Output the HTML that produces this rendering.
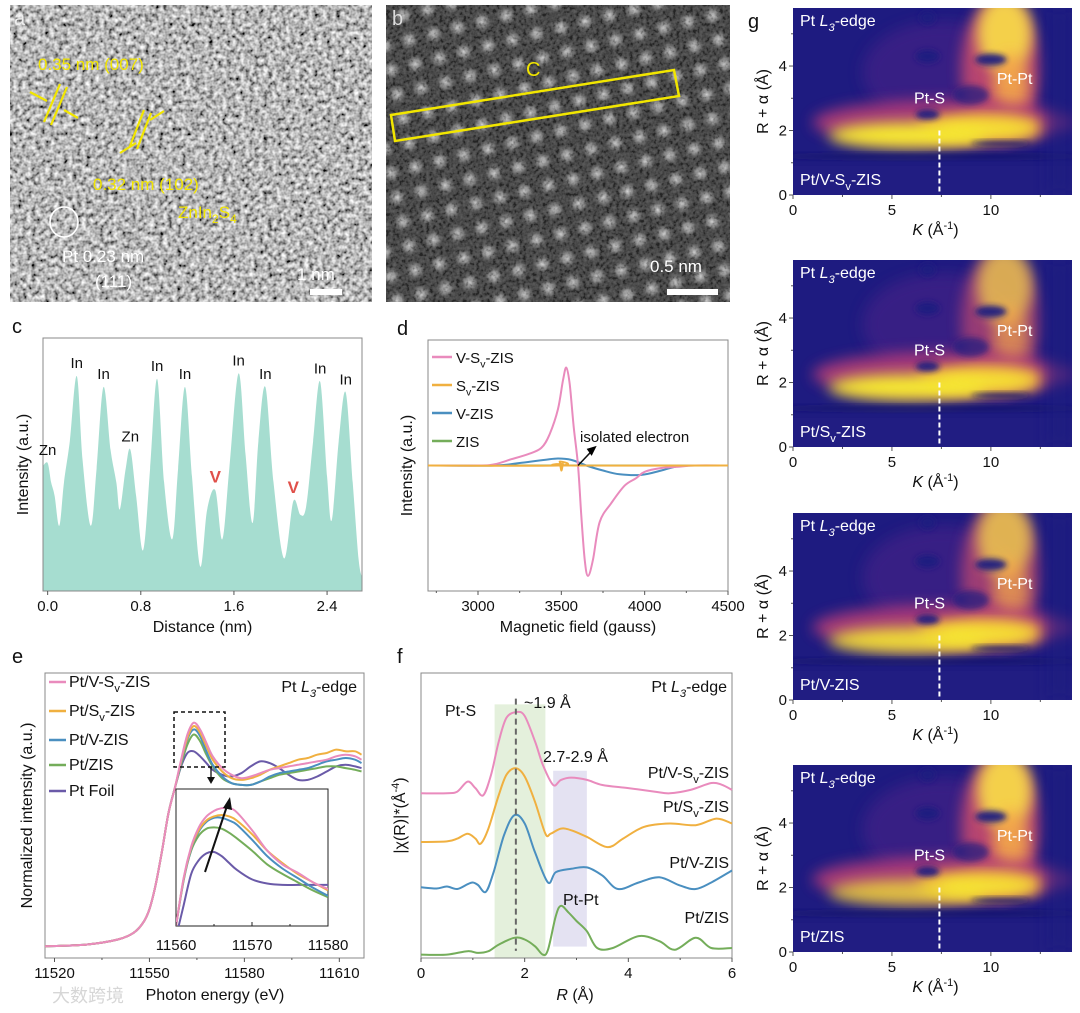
<!DOCTYPE html>
<html><head><meta charset="utf-8"><style>
html,body{margin:0;padding:0;background:#fff;}
svg{display:block;font-family:"Liberation Sans","Noto Sans CJK SC",sans-serif;}
</style></head><body>
<svg id="fig" width="1080" height="1013" viewBox="0 0 1080 1013" xmlns="http://www.w3.org/2000/svg">
<defs>
<filter id="temA" x="0" y="0" width="100%" height="100%"><feTurbulence type="fractalNoise" baseFrequency="0.22" numOctaves="2" seed="4"/><feColorMatrix type="matrix" values="1.5 0 0 0 -0.28  1.5 0 0 0 -0.28  1.5 0 0 0 -0.28  0 0 0 0 1"/></filter>
<filter id="temB" x="0" y="0" width="100%" height="100%"><feTurbulence type="fractalNoise" baseFrequency="0.3" numOctaves="2" seed="9"/><feColorMatrix type="matrix" values="1 0 0 0 -0.3  1 0 0 0 -0.3  1 0 0 0 -0.3  0 0 0 0 0.3"/></filter>
<radialGradient id="dot"><stop offset="0" stop-color="#e0e0e0"/><stop offset="0.45" stop-color="#a0a0a0" stop-opacity="0.75"/><stop offset="1" stop-color="#333" stop-opacity="0"/></radialGradient>
<pattern id="lat" width="25" height="25" patternUnits="userSpaceOnUse" patternTransform="rotate(-14)"><circle cx="12.5" cy="12.5" r="11" fill="url(#dot)"/></pattern>
<filter id="blur" x="-50%" y="-50%" width="200%" height="200%"><feGaussianBlur stdDeviation="7"/></filter>
<filter id="blur2" x="-50%" y="-50%" width="200%" height="200%"><feGaussianBlur stdDeviation="3"/></filter>
<clipPath id="clipInset"><rect x="176" y="789" width="152" height="137"/></clipPath>
</defs>

<!-- Panel a -->
<g>
<rect x="10" y="5" width="362" height="297" fill="#777"/>
<rect x="10" y="5" width="362" height="297" filter="url(#temA)"/>
<text x="14" y="25" font-size="20" fill="#eee">a</text>
<g stroke="#f2e600" stroke-width="2.2" fill="none">
<line x1="44" y1="122" x2="60" y2="84"/><line x1="51" y1="125" x2="67" y2="87"/>
<line x1="30" y1="92" x2="47" y2="101"/><line x1="64" y1="110" x2="78" y2="118"/>
<line x1="130" y1="146" x2="144" y2="110"/><line x1="137" y1="149" x2="151" y2="113"/>
<line x1="120" y1="153" x2="136" y2="143"/><line x1="150" y1="120" x2="164" y2="111"/>
</g>
<text x="38" y="70" font-size="17" fill="#f2e600">0.35 nm (007)</text>
<text x="178" y="218" font-size="17" fill="#f2e600">ZnIn<tspan font-size="12" dy="5">2</tspan><tspan dy="-5">S</tspan><tspan font-size="12" dy="5">4</tspan></text>
<text x="93" y="190" font-size="17" fill="#f2e600">0.32 nm (102)</text>
<ellipse cx="64" cy="222" rx="14" ry="15" stroke="#fff" stroke-width="1.6" fill="none"/>
<text x="62" y="262" font-size="17" fill="#fff">Pt 0.23 nm</text>
<text x="95" y="287" font-size="17" fill="#fff">(111)</text>
<text x="297" y="280" font-size="17" fill="#fff">1 nm</text>
<rect x="310" y="289" width="32" height="6" fill="#fff"/>
</g>

<!-- Panel b -->
<g>
<rect x="386" y="5" width="344" height="297" fill="#333"/>
<rect x="386" y="5" width="344" height="297" fill="url(#lat)"/>
<rect x="386" y="5" width="344" height="297" filter="url(#temB)"/>
<text x="392" y="25" font-size="20" fill="#ddd">b</text>
<text x="526" y="76" font-size="20" fill="#f2e600">C</text>
<polygon points="391,115 674,70 679,96 395,141" fill="none" stroke="#f2e600" stroke-width="2.5"/>
<text x="650" y="272" font-size="17" fill="#fff">0.5 nm</text>
<rect x="667" y="289" width="51" height="6" fill="#fff"/>
</g>

<g id="charts"></g>
</svg>

<script>
// ---------- Panel c data ----------
const cDist = [-0.04,0.0,0.03,0.06,0.10,0.14,0.19,0.25,0.30,0.37,0.42,0.48,0.54,0.59,0.62,0.67,0.71,0.76,0.82,0.88,0.94,1.00,1.07,1.12,1.18,1.24,1.31,1.37,1.44,1.50,1.56,1.64,1.70,1.76,1.81,1.87,1.94,2.03,2.11,2.17,2.22,2.28,2.34,2.40,2.44,2.50,2.56,2.62,2.67,2.70];
const cInt  = [0.46,0.47,0.40,0.35,0.24,0.40,0.55,0.79,0.48,0.24,0.45,0.75,0.52,0.40,0.30,0.45,0.52,0.35,0.15,0.45,0.78,0.40,0.19,0.45,0.75,0.42,0.09,0.30,0.37,0.19,0.45,0.80,0.50,0.25,0.55,0.75,0.40,0.12,0.33,0.28,0.31,0.55,0.77,0.42,0.26,0.55,0.73,0.40,0.12,0.05];
const cPeakLabels = ["Zn","In","In","Zn","In","In","V","In","In","V","In","In"];
const cPeakX = [0.0,0.25,0.48,0.71,0.94,1.18,1.44,1.64,1.87,2.11,2.34,2.56];
const cPeakY = [0.47,0.79,0.75,0.52,0.78,0.75,0.37,0.80,0.75,0.33,0.77,0.73];
const cTicks = [0.0,0.8,1.6,2.4];

// ---------- Panel d data ----------
const dPinkX = [2700,3000,3100,3200,3300,3380,3430,3480,3510,3530,3550,3575,3600,3620,3640,3660,3690,3730,3800,3880,3950,4000,4100,4200,4300,4500];
const dPinkY = [0,0,0.01,0.05,0.09,0.14,0.25,0.45,0.68,0.78,0.65,0.3,0,-0.4,-0.75,-0.88,-0.75,-0.45,-0.3,-0.16,-0.1,-0.05,-0.02,-0.01,0,0];
const dBlueX = [2700,3100,3250,3400,3480,3560,3650,3750,3850,3980,4100,4200,4300,4500];
const dBlueY = [0,0,0.02,0.045,0.056,0.045,0,-0.04,-0.07,-0.075,-0.04,-0.005,0,0];
const dOrangeX = [2700,3480,3490,3500,3510,3520,4500];
const dOrangeY = [0,0,0.03,-0.04,0.01,0,0];
const dGreenX = [2700,4500];
const dGreenY = [0,0];
const dTicks = [3000,3500,4000,4500];
const dLegend = ["V-S|v|-ZIS","S|v|-ZIS","V-ZIS","ZIS"];

// ---------- Panel e data ----------
const eEnergy = [11517,11530,11540,11545,11548,11550,11552,11554,11556,11558,11560,11562,11564,11566,11568,11570,11573,11576,11579,11582,11585,11588,11591,11594,11597,11600,11603,11606,11609,11612,11615,11617];
const ePink   = [.01,.02,.05,.09,.15,.23,.38,.58,.80,.95,1.12,1.27,1.34,1.30,1.22,1.14,1.07,1.03,1.01,1.02,1.04,1.06,1.07,1.08,1.09,1.10,1.11,1.12,1.14,1.15,1.14,1.12];
const eOrange = [.01,.02,.05,.09,.15,.23,.38,.58,.80,.95,1.11,1.25,1.32,1.28,1.20,1.12,1.05,1.01,1.00,1.01,1.03,1.06,1.08,1.10,1.12,1.13,1.15,1.16,1.18,1.17,1.17,1.15];
const eBlue   = [.01,.02,.05,.09,.15,.23,.38,.58,.80,.95,1.10,1.24,1.30,1.26,1.17,1.09,1.02,0.98,0.97,0.97,0.99,1.02,1.04,1.05,1.06,1.07,1.09,1.11,1.12,1.13,1.12,1.10];
const eGreen  = [.01,.02,.05,.09,.15,.23,.38,.58,.80,.95,1.09,1.21,1.27,1.23,1.15,1.08,1.01,0.98,0.97,0.97,0.99,1.01,1.03,1.04,1.05,1.06,1.07,1.08,1.08,1.07,1.06,1.05];
const ePurple = [.01,.02,.05,.09,.15,.23,.38,.58,.80,.95,1.08,1.16,1.17,1.14,1.10,1.06,1.03,1.02,1.04,1.08,1.11,1.10,1.07,1.03,1.00,1.00,1.02,1.05,1.08,1.09,1.08,1.07];
const eTicks = [11520,11550,11580,11610];
const iEnergy = [11560,11561,11562,11563,11564,11565,11566,11567,11568,11570,11572,11574,11576,11578,11580];
const iPink   = [0,0.35,0.58,0.72,0.80,0.84,0.86,0.86,0.83,0.70,0.55,0.45,0.39,0.32,0.27];
const iOrange = [0,0.34,0.57,0.70,0.77,0.80,0.81,0.80,0.77,0.67,0.55,0.46,0.38,0.32,0.26];
const iBlue   = [0,0.33,0.56,0.69,0.76,0.79,0.79,0.77,0.74,0.63,0.51,0.42,0.35,0.28,0.22];
const iGreen  = [0,0.34,0.55,0.66,0.71,0.72,0.71,0.68,0.64,0.55,0.45,0.38,0.32,0.26,0.21];
const iPurple = [-0.08,0.15,0.38,0.48,0.53,0.54,0.51,0.46,0.41,0.34,0.31,0.30,0.30,0.30,0.30];
const iTicks = [11560,11570,11580];
const eLegend = ["Pt/V-S|v|-ZIS","Pt/S|v|-ZIS","Pt/V-ZIS","Pt/ZIS","Pt Foil"];

// ---------- Panel f data ----------
const fPinkR = [0,0.5,0.7,0.9,1.05,1.2,1.35,1.5,1.65,1.85,2.0,2.2,2.35,2.55,2.7,2.9,3.2,3.5,4,4.5,4.8,5.2,5.6,5.8,6];
const fPink  = [.578,.578,.584,.619,.596,.571,.642,.760,.843,.863,.849,.760,.678,.607,.625,.633,.625,.607,.596,.584,.578,.590,.614,.608,.590];
const fOrangeR = [0,0.5,0.7,0.9,1.05,1.15,1.3,1.5,1.65,1.83,2.0,2.2,2.4,2.5,2.7,2.9,3.2,3.6,3.9,4.3,4.8,5.3,5.7,6];
const fOrange  = [.407,.409,.419,.436,.419,.401,.454,.572,.643,.666,.637,.548,.436,.436,.454,.448,.425,.389,.419,.460,.472,.466,.489,.472];
const fBlueR = [0,0.3,0.5,0.7,0.9,1.0,1.1,1.25,1.4,1.6,1.8,2.0,2.2,2.45,2.6,2.9,3.2,3.5,3.8,4.2,4.6,5.0,5.3,5.6,6];
const fBlue  = [.248,.244,.251,.242,.259,.265,.256,.232,.301,.430,.501,.472,.371,.265,.301,.313,.318,.289,.242,.265,.283,.254,.242,.265,.307];
const fGreenR = [0,0.5,0.9,1.1,1.3,1.5,1.8,2.0,2.2,2.35,2.45,2.6,2.7,2.85,3.0,3.2,3.4,3.7,4.2,4.6,4.9,5.3,5.6,6];
const fGreen  = [.012,.012,.024,.018,.024,.047,.071,.065,.041,.012,.029,.147,.183,.159,.130,.094,.035,.035,.077,.059,.029,.071,.035,.035];
const fTicks = [0,2,4,6];
const fLabels = ["Pt/V-S|v|-ZIS","Pt/S|v|-ZIS","Pt/V-ZIS","Pt/ZIS"];

// ---------- Panel g ----------
const gTops = [8, 260, 513, 765];
const gSamples = ["Pt/V-S|v|-ZIS","Pt/S|v|-ZIS","Pt/V-ZIS","Pt/ZIS"];
const gPtPtStrength = [1.0, 0.75, 0.8, 1.0];
const gPtSStrength = [1.0, 1.0, 0.9, 0.75];
const gKTicks = [0,5,10];
const gRTicks = [0,2,4];

const NS = "http://www.w3.org/2000/svg";
const root = document.getElementById("charts");
function el(tag, attrs, parent){ const e=document.createElementNS(NS,tag); for(const k in attrs) e.setAttribute(k,attrs[k]); (parent||root).appendChild(e); return e; }
function lin(d0,d1,r0,r1){ return v => r0 + (v-d0)*(r1-r0)/(d1-d0); }
function smoothPath(xs, ys, sx, sy){
  const p = xs.map((x,i)=>[sx(x), sy(ys[i])]);
  let d = "M"+p[0][0].toFixed(1)+","+p[0][1].toFixed(1);
  for(let i=0;i<p.length-1;i++){
    const p0=p[i-1]||p[i], p1=p[i], p2=p[i+1], p3=p[i+2]||p2;
    const c1x=p1[0]+(p2[0]-p0[0])/6, c1y=p1[1]+(p2[1]-p0[1])/6;
    const c2x=p2[0]-(p3[0]-p1[0])/6, c2y=p2[1]-(p3[1]-p1[1])/6;
    d += " C"+c1x.toFixed(1)+","+c1y.toFixed(1)+" "+c2x.toFixed(1)+","+c2y.toFixed(1)+" "+p2[0].toFixed(1)+","+p2[1].toFixed(1);
  }
  return d;
}
function richText(parent, x, y, str, size, fill, anchor){
  const t = el("text",{x:x,y:y,"font-size":size,fill:fill||"#111","text-anchor":anchor||"start"},parent);
  const parts = str.split("|");
  parts.forEach((s,i)=>{
    const ts = document.createElementNS(NS,"tspan");
    if(i%2===1){ ts.setAttribute("font-size", size*0.7); ts.setAttribute("dy", size*0.3); }
    else if(i>0){ ts.setAttribute("dy", -size*0.3); }
    ts.textContent = s; t.appendChild(ts);
  });
  return t;
}
function edgeLabel(parent,x,y,size,anchor,fill){
  const t = el("text",{x:x,y:y,"font-size":size,fill:fill||"#111","text-anchor":anchor||"end"},parent);
  const a=document.createElementNS(NS,"tspan"); a.textContent="Pt "; t.appendChild(a);
  const b=document.createElementNS(NS,"tspan"); b.setAttribute("font-style","italic"); b.textContent="L"; t.appendChild(b);
  const c=document.createElementNS(NS,"tspan"); c.setAttribute("font-style","italic"); c.setAttribute("font-size",size*0.7); c.setAttribute("dy",size*0.3); c.textContent="3"; t.appendChild(c);
  const d=document.createElementNS(NS,"tspan"); d.setAttribute("dy",-size*0.3); d.textContent="-edge"; t.appendChild(d);
  return t;
}
const PINK="#e98bbd", ORANGE="#f0b040", BLUE="#4a8fc0", GREEN="#74ad5a", PURPLE="#6a5aa8";

// ================= Panel c =================
(function(){
  const g = el("g",{});
  
  
  const L=43,R=362,T=338,B=591;
  const sx = lin(-0.04,2.70,L,R), sy = lin(0,0.93,B,T);
  let d = "M"+sx(cDist[0])+","+B+" L"+ smoothPath(cDist,cInt,sx,sy).slice(1) + " L"+sx(cDist[cDist.length-1])+","+B+" Z";
  const area = el("path",{d:d,fill:"#a6ddd0"},g);
  
  
  const box = el("rect",{x:L,y:T,width:R-L,height:B-T,fill:"none",stroke:"#888","stroke-width":1},g);
  
  
  cTicks.forEach(v=>{
    el("line",{x1:sx(v),x2:sx(v),y1:B,y2:B+4,stroke:"#555"},g);
    const t=el("text",{x:sx(v),y:B+20,"font-size":15,"text-anchor":"middle",fill:"#111"},g); t.textContent=v.toFixed(1);
    
    
  });
  cPeakLabels.forEach((s,i)=>{
    const isV = s==="V";
    const t=el("text",{x:sx(cPeakX[i]),y:sy(cPeakY[i])-8,"font-size":isV?17:15,"text-anchor":"middle",fill:isV?"#e0504a":"#111","font-weight":isV?"bold":"normal"},g);
    t.textContent=s;
    
    
  });
  const xt=el("text",{x:(L+R)/2,y:632,"font-size":16,"text-anchor":"middle",fill:"#111"},g); xt.textContent="Distance (nm)";
  
  
  const yt=el("text",{x:0,y:0,"font-size":16,"text-anchor":"middle",fill:"#111",transform:"translate(28,"+((T+B)/2)+") rotate(-90)"},g); yt.textContent="Intensity (a.u.)";
  
  
  const pl=el("text",{x:12,y:333,"font-size":20,fill:"#111"},g); pl.textContent="c";
  
  
})();

// ================= Panel d =================
(function(){
  const g = el("g",{});
  
  
  const L=428,R=728,T=340,B=591;
  const sx = lin(2700,4500,L,R), sy = lin(-1,1,B,T);
  const box=el("rect",{x:L,y:T,width:R-L,height:B-T,fill:"none",stroke:"#888"},g);
  
  
  for(let v=2750; v<=4500; v+=250){ el("line",{x1:sx(v),x2:sx(v),y1:B,y2:B+(v%500===0?4:2),stroke:"#555"},g); }
  dTicks.forEach(v=>{
    const t=el("text",{x:sx(v),y:B+20,"font-size":15,"text-anchor":"middle",fill:"#111"},g); t.textContent=v;
    
    
  });
  const series=[[dGreenX,dGreenY,GREEN,"zis"],[dBlueX,dBlueY,BLUE,"v-zis"],[dPinkX,dPinkY,PINK,"v-sv-zis"],[dOrangeX,dOrangeY,ORANGE,"sv-zis"]];
  series.forEach(s=>{
    const p=el("path",{d:smoothPath(s[0],s[1],sx,sy),fill:"none",stroke:s[2],"stroke-width":2},g);
    
    
  });
  const cols=[PINK,ORANGE,BLUE,GREEN];
  dLegend.forEach((s,i)=>{
    const y=357+i*28;
    el("line",{x1:432,x2:452,y1:y,y2:y,stroke:cols[i],"stroke-width":2.5},g);
    const t=richText(g,456,y+6,s,15);
    
    
  });
  el("line",{x1:sx(3600),y1:sy(0),x2:sx(3700),y2:sy(0.14),stroke:"#111","stroke-width":1.5},g);
  el("polygon",{points:(sx(3700)+2)+","+(sy(0.14)-2)+" "+(sx(3700)-8)+","+(sy(0.14)+1)+" "+(sx(3700)-3)+","+(sy(0.14)+8)},g);
  const an=el("text",{x:580,y:442,"font-size":15,fill:"#111"},g); an.textContent="isolated electron";
  
  
  const xt=el("text",{x:(L+R)/2,y:632,"font-size":16,"text-anchor":"middle",fill:"#111"},g); xt.textContent="Magnetic field (gauss)";
  
  
  const yt=el("text",{x:0,y:0,"font-size":16,"text-anchor":"middle",fill:"#111",transform:"translate(412,"+((T+B)/2)+") rotate(-90)"},g); yt.textContent="Intensity (a.u.)";
  
  
  const pl=el("text",{x:397,y:335,"font-size":20,fill:"#111"},g); pl.textContent="d";
  
  
})();

// ================= Panel e =================
(function(){
  const g = el("g",{});
  
  
  const L=45,R=364,T=673,B=958;
  const sx = lin(11517,11617.8,L,R), sy = lin(-0.06,1.636,B,T);
  const box=el("rect",{x:L,y:T,width:R-L,height:B-T,fill:"none",stroke:"#888"},g);
  
  
  for(let v=11520; v<=11610; v+=15){ el("line",{x1:sx(v),x2:sx(v),y1:B,y2:B+(v%30===0?4:2),stroke:"#555"},g); }
  eTicks.forEach(v=>{
    const t=el("text",{x:sx(v),y:B+20,"font-size":15,"text-anchor":"middle",fill:"#111"},g); t.textContent=v;
    
    
  });
  const ser=[[ePurple,PURPLE,"pt-foil"],[eGreen,GREEN,"pt-zis"],[eBlue,BLUE,"pt-v-zis"],[eOrange,ORANGE,"pt-sv-zis"],[ePink,PINK,"pt-v-sv-zis"]];
  ser.forEach(s=>{
    const p=el("path",{d:smoothPath(eEnergy,s[0],sx,sy),fill:"none",stroke:s[1],"stroke-width":2},g);
    
    
  });
  const db=el("rect",{x:174,y:712,width:51,height:55,fill:"none",stroke:"#111","stroke-width":1.5,"stroke-dasharray":"4,3"},g);
  
  
  el("line",{x1:211,y1:767,x2:211,y2:779,stroke:"#111","stroke-width":1.3},g);
  el("polygon",{points:"207,777 215,777 211,784",fill:"#111"},g);
  const iL=176,iR=328,iT=789,iB=926;
  const ix=lin(11560,11580,iL,iR), iy=lin(0,1,iB,iT);
  el("rect",{x:iL,y:iT,width:iR-iL,height:iB-iT,fill:"#fff",stroke:"#222"},g);
  const ig=el("g",{"clip-path":"url(#clipInset)"},g);
  
  
  [[iPurple,PURPLE],[iGreen,GREEN],[iBlue,BLUE],[iOrange,ORANGE],[iPink,PINK]].forEach(s=>{
    const p=el("path",{d:smoothPath(iEnergy,s[0],ix,iy),fill:"none",stroke:s[1],"stroke-width":2},ig);
    
    
  });
  for(let v=11560; v<=11580; v+=5){ el("line",{x1:ix(v),x2:ix(v),y1:iB,y2:iB-(v%10===0?4:2),stroke:"#222"},g); }
  iTicks.forEach(v=>{
    const t=el("text",{x:ix(v),y:950,"font-size":15,"text-anchor":"middle",fill:"#111"},g); t.textContent=v;
    
    
  });
  el("line",{x1:205,y1:872,x2:228,y2:803,stroke:"#111","stroke-width":2},g);
  el("polygon",{points:"230,797 223,808 232,810",fill:"#111"},g);
  const cols=[PINK,ORANGE,BLUE,GREEN,PURPLE];
  const ys=[687,716,745,770,796];
  eLegend.forEach((s,i)=>{
    el("line",{x1:49,x2:66,y1:ys[i]-5,y2:ys[i]-5,stroke:cols[i],"stroke-width":2.5},g);
    const t=richText(g,69,ys[i],s,16);
    
    
  });
  const el3=edgeLabel(g,357,692,16,"end");
  
  
  const xt=el("text",{x:215,y:1000,"font-size":16,"text-anchor":"middle",fill:"#111"},g); xt.textContent="Photon energy (eV)";
  
  
  const wm=el("text",{x:52,y:1002,"font-size":18,fill:"#ccc",opacity:0.8},g); wm.textContent="大数跨境";
  
  
  const yt=el("text",{x:0,y:0,"font-size":16,"text-anchor":"middle",fill:"#111",transform:"translate(32,"+((T+B)/2)+") rotate(-90)"},g); yt.textContent="Normalized intensity (a.u.)";
  
  
  const pl=el("text",{x:12,y:663,"font-size":20,fill:"#111"},g); pl.textContent="e";
  
  
})();

// ================= Panel f =================
(function(){
  const g = el("g",{});
  
  
  const L=421,R=732,T=673,B=958;
  const sx=lin(0,6,L,R), sy=lin(0,1,B,T);
  const gb=el("rect",{x:sx(1.42),y:sy(0.89),width:sx(2.4)-sx(1.42),height:sy(0)-sy(0.89),fill:"#e4f0dc"},g);
  
  
  const pb=el("rect",{x:sx(2.55),y:sy(0.657),width:sx(3.2)-sx(2.55),height:sy(0.04)-sy(0.657),fill:"#e4e2f2"},g);
  
  
  const box=el("rect",{x:L,y:T,width:R-L,height:B-T,fill:"none",stroke:"#888"},g);
  
  
  for(let v=0; v<=6; v+=1){ el("line",{x1:sx(v),x2:sx(v),y1:B,y2:B+(v%2===0?4:2),stroke:"#555"},g); }
  fTicks.forEach(v=>{
    const t=el("text",{x:sx(v),y:B+20,"font-size":15,"text-anchor":"middle",fill:"#111"},g); t.textContent=v;
    
    
  });
  [[fGreenR,fGreen,GREEN,"pt-zis"],[fBlueR,fBlue,BLUE,"pt-v-zis"],[fOrangeR,fOrange,ORANGE,"pt-sv-zis"],[fPinkR,fPink,PINK,"pt-v-sv-zis"]].forEach(s=>{
    const p=el("path",{d:smoothPath(s[0],s[1],sx,sy),fill:"none",stroke:s[2],"stroke-width":2},g);
    
    
  });
  const dl=el("line",{x1:sx(1.83),x2:sx(1.83),y1:sy(0.91),y2:sy(0.025),stroke:"#666","stroke-width":2,"stroke-dasharray":"6,4"},g);
  
  
  const add=(x,y,s,name,anchor)=>{ const t=el("text",{x:x,y:y,"font-size":16,fill:"#111","text-anchor":anchor||"start"},g); t.textContent=s;   return t; };
  add(445,716,"Pt-S","pt-s-label");
  add(524,708,"~1.9 Å","distance-label-1p9");
  add(543,762,"2.7-2.9 Å","distance-label-2p7");
  add(563,905,"Pt-Pt","pt-pt-label");
  const yls=[778,812,868,923];
  fLabels.forEach((s,i)=>{
    const t=richText(g,729,yls[i],s,16,"#111","end");
    
    
  });
  const el3=edgeLabel(g,727,692,16,"end");
  
  
  const xt=el("text",{x:575,y:1000,"font-size":16,"text-anchor":"middle",fill:"#111"},g);
  const a=document.createElementNS(NS,"tspan"); a.setAttribute("font-style","italic"); a.textContent="R"; xt.appendChild(a);
  const b=document.createElementNS(NS,"tspan"); b.textContent=" (Å)"; xt.appendChild(b);
  
  
  const yt=el("text",{x:0,y:0,"font-size":16,"text-anchor":"middle",fill:"#111",transform:"translate(405,"+((T+B)/2)+") rotate(-90)"},g);
  const y1=document.createElementNS(NS,"tspan"); y1.textContent="|χ(R)|*(Å"; yt.appendChild(y1);
  const y2=document.createElementNS(NS,"tspan"); y2.setAttribute("font-size",11); y2.setAttribute("dy",-6); y2.textContent="-4"; yt.appendChild(y2);
  const y3=document.createElementNS(NS,"tspan"); y3.setAttribute("dy",6); y3.textContent=")"; yt.appendChild(y3);
  
  
  const pl=el("text",{x:397,y:663,"font-size":20,fill:"#111"},g); pl.textContent="f";
  
  
})();

// ================= Panel g =================
gTops.forEach((top,idx)=>{
  const g = el("g",{});
  
  
  const L=793,R=1072,T=top,B=top+187;
  const sx=lin(0,14.1,L,R), sy=lin(0,5.8,B,T);
  const cid="gclip"+idx;
  const cp=el("clipPath",{id:cid},g); el("rect",{x:L,y:T,width:R-L,height:B-T},cp);
  const hm=el("g",{"clip-path":"url(#"+cid+")"},g);
  el("rect",{x:L,y:T,width:R-L,height:B-T,fill:"#1e1b80"},hm);
  const blob=(k,r,rk,rr,col,op,f)=>el("ellipse",{cx:sx(k),cy:sy(r),rx:sx(rk)-sx(0),ry:sy(0)-sy(rr),fill:col,opacity:op,filter:"url(#"+(f||"blur")+")"},hm);
  const pp=gPtPtStrength[idx], ps=gPtSStrength[idx];
  blob(7.5,3.8,4.0,1.6,"#4a2488",0.6);
  blob(10.5,3.9,2.0,2.2,"#c44a6e",0.9*pp);
  blob(10.7,5.0,1.4,1.2,"#f8d848",0.95*pp);
  blob(11.0,3.4,0.9,1.0,"#f4a848",0.9*pp);
  blob(7.5,2.25,6.5,0.7,"#b03a78",0.9);
  blob(9.5,2.1,3.2,0.45,"#f4b040",0.95);
  blob(5.8,1.85,4.0,0.4,"#f6e830",0.98*ps+0.02);
  blob(9.8,2.05,2.5,0.3,"#f6e830",0.9);
  blob(6.8,2.5,0.6,0.15,"#1e1b80",0.95,"blur2");
  blob(6.8,4.3,0.6,0.2,"#1e1b80",0.95,"blur2");
  blob(6.8,5.5,0.4,0.2,"#1e1b80",0.9,"blur2");
  blob(10,4.2,0.8,0.18,"#1e1b80",0.95,"blur2");
  blob(9,3.1,0.9,0.3,"#1e1b80",0.7,"blur2");
  blob(7,1.2,8,0.08,"#14126a",0.9,"blur2");
  blob(10.5,1.6,1.5,0.08,"#14126a",0.9,"blur2");
  el("rect",{x:L,y:sy(0.9),width:R-L,height:sy(0)-sy(0.9),fill:"#221e82",opacity:0.8},hm);
  el("rect",{x:sx(12.8),y:T,width:R-sx(12.8),height:B-T,fill:"#1e1b80",opacity:0.6,filter:"url(#blur)"},hm);
  const dl=el("line",{x1:sx(7.4),x2:sx(7.4),y1:sy(2.0),y2:sy(0.1),stroke:"#fff","stroke-width":2,"stroke-dasharray":"5,3"},g);
  
  
  for(let v=0; v<=14; v+=2.5){ el("line",{x1:sx(v),x2:sx(v),y1:B,y2:B+(v%5===0?4:2),stroke:"#555"},g); }
  for(let v=0; v<=5; v+=1){ el("line",{x1:L,x2:L-(v%2===0?4:2),y1:sy(v),y2:sy(v),stroke:"#555"},g); }
  gKTicks.forEach(v=>{
    const t=el("text",{x:sx(v),y:B+20,"font-size":15,"text-anchor":"middle",fill:"#111"},g); t.textContent=v;
    
    
  });
  gRTicks.forEach(v=>{
    const t=el("text",{x:L-6,y:sy(v)+5,"font-size":15,"text-anchor":"end",fill:"#111"},g); t.textContent=v;
    
    
  });
  const e3=edgeLabel(g,800,T+18,16,"start","#fff");
  
  
  const ptS=el("text",{x:sx(6.9),y:sy(3.0)+5,"font-size":16,"text-anchor":"middle",fill:"#fff"},g); ptS.textContent="Pt-S";
  
  
  const ptP=el("text",{x:sx(11.2),y:sy(3.6)+5,"font-size":16,"text-anchor":"middle",fill:"#fff"},g); ptP.textContent="Pt-Pt";
  
  
  const sl=richText(g,800,B-10,gSamples[idx],16,"#fff","start");
  
  
  const xt=el("text",{x:sx(7.2),y:B+40,"font-size":16,"text-anchor":"middle",fill:"#111"},g);
  const a=document.createElementNS(NS,"tspan"); a.setAttribute("font-style","italic"); a.textContent="K"; xt.appendChild(a);
  const b=document.createElementNS(NS,"tspan"); b.textContent=" (Å"; xt.appendChild(b);
  const c=document.createElementNS(NS,"tspan"); c.setAttribute("font-size",11); c.setAttribute("dy",-6); c.textContent="-1"; xt.appendChild(c);
  const d=document.createElementNS(NS,"tspan"); d.setAttribute("dy",6); d.textContent=")"; xt.appendChild(d);
  
  
  const yt=el("text",{x:0,y:0,"font-size":16,"text-anchor":"middle",fill:"#111",transform:"translate(768,"+((T+B)/2)+") rotate(-90)"},g); yt.textContent="R + α (Å)";
  
  
});
(function(){
  const pl=el("text",{x:748,y:28,"font-size":20,fill:"#111"});
  pl.textContent="g";
  
  
})();
</script>
</body></html>
